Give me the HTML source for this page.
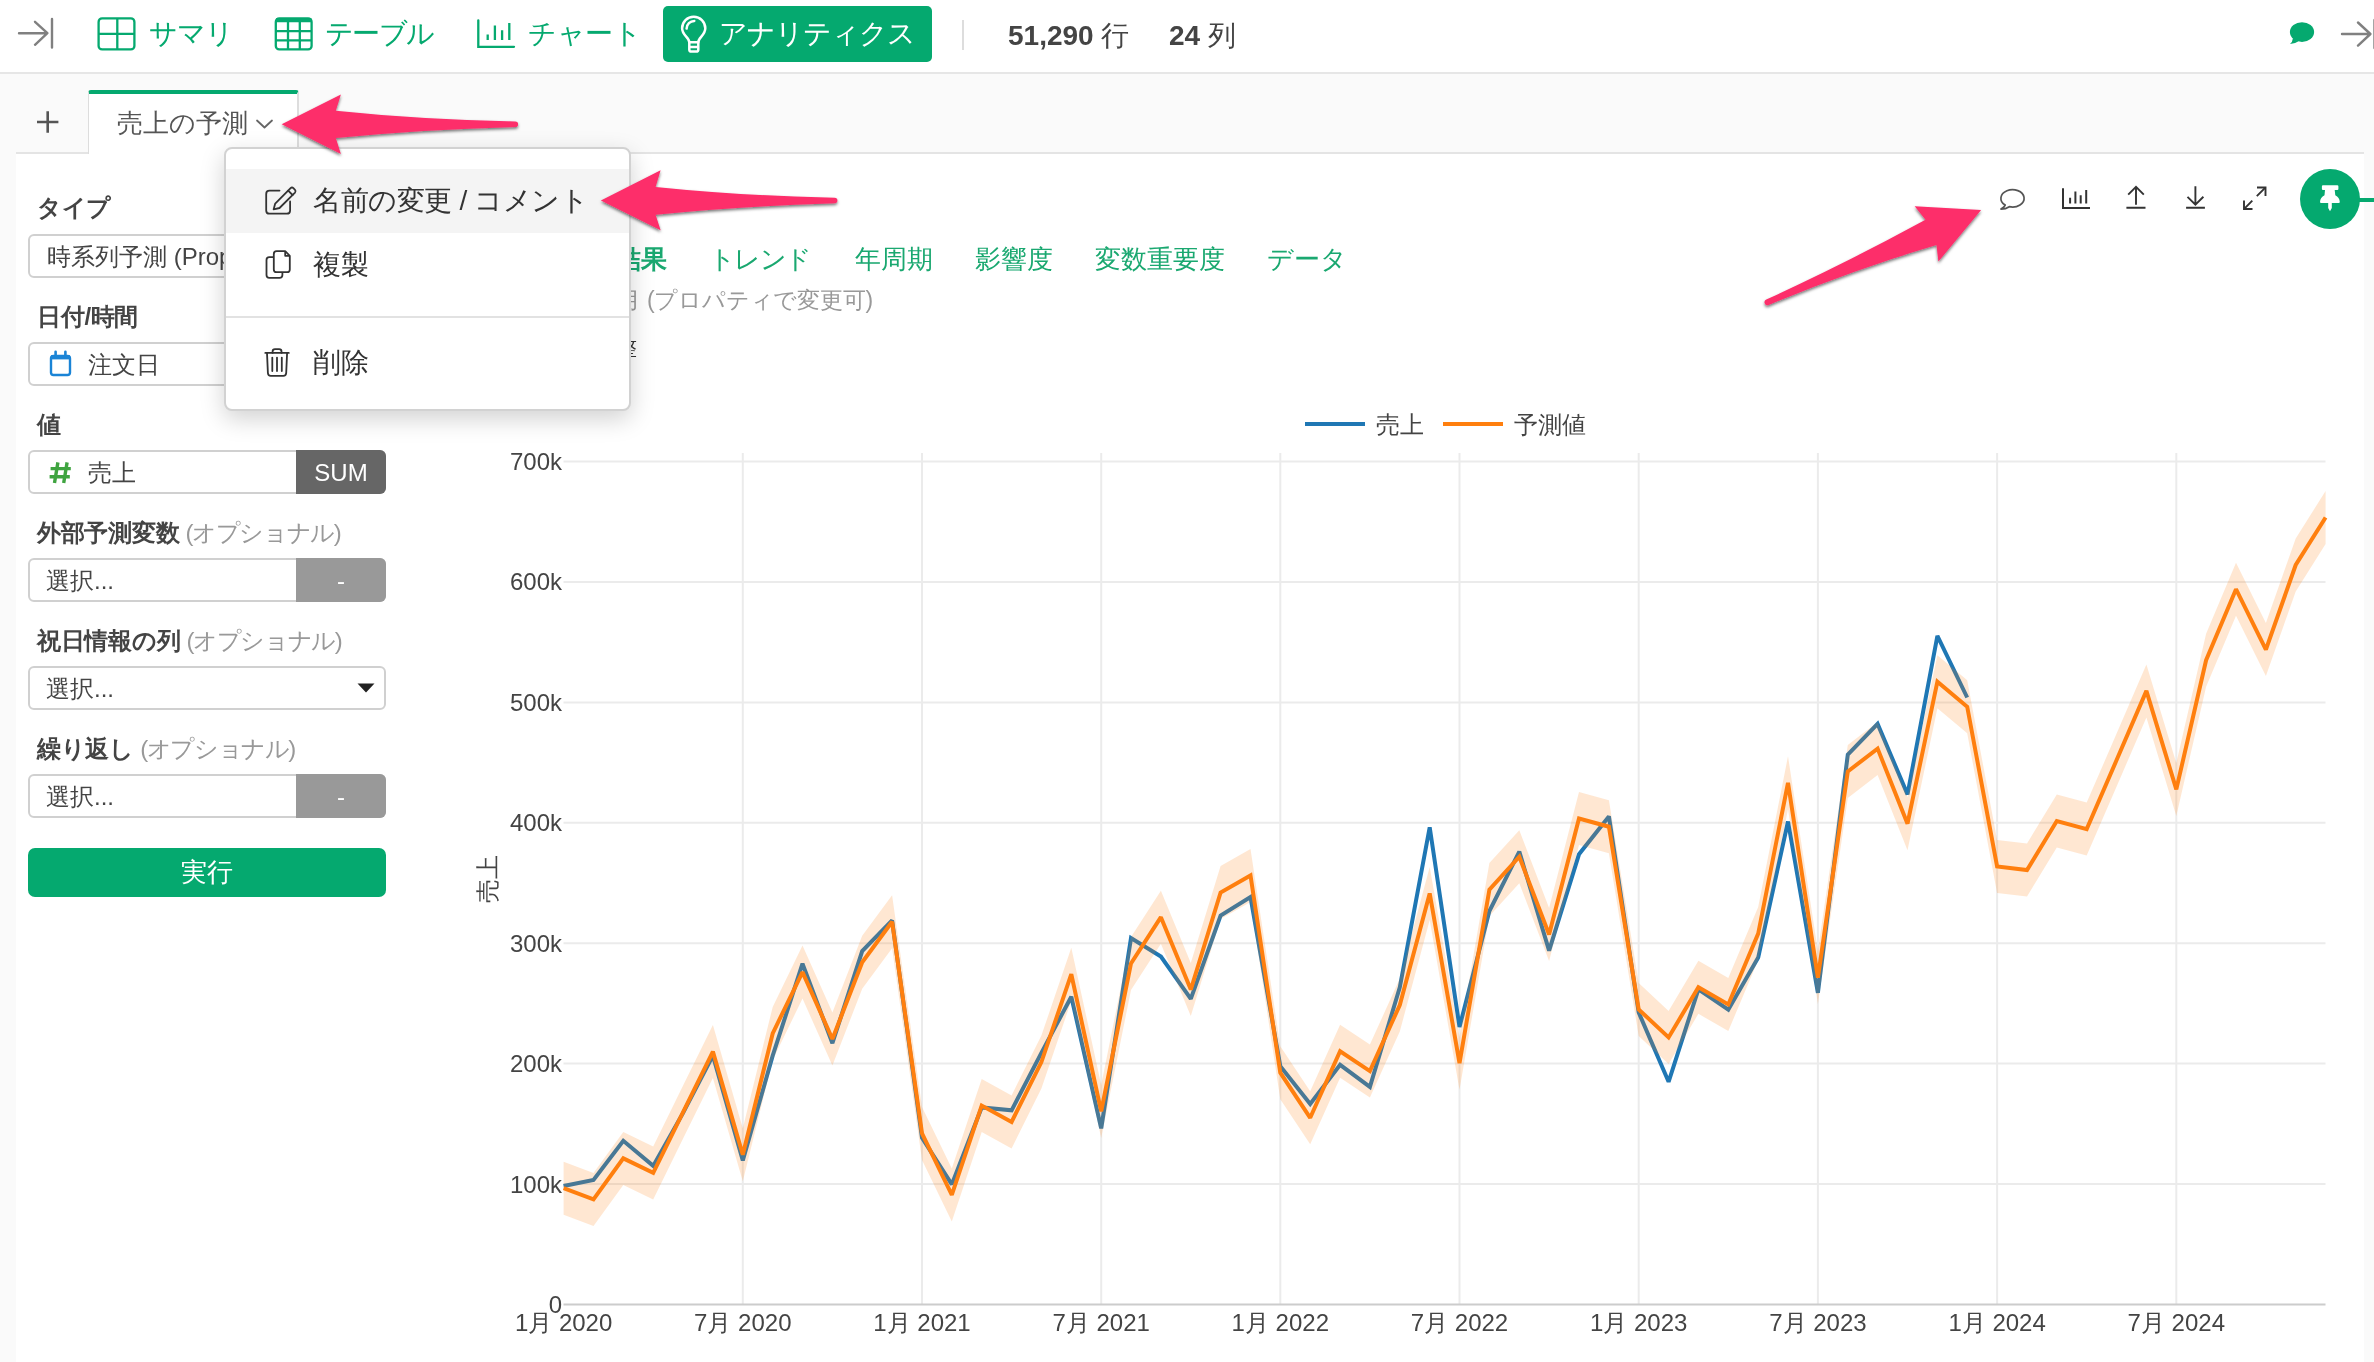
<!DOCTYPE html>
<html lang="ja">
<head>
<meta charset="utf-8">
<title>売上の予測 - アナリティクス</title>
<style>
*{box-sizing:border-box;margin:0;padding:0}
html,body{width:2374px;height:1362px;overflow:hidden;background:#fafafa}
body{font-family:"Liberation Sans",sans-serif;color:#444;position:relative;will-change:transform}
.abs{position:absolute}
svg{position:absolute;display:block;overflow:visible}
.t{position:absolute;white-space:nowrap;line-height:1}

/* top bar */
#topbar{position:absolute;left:0;top:0;width:2374px;height:74px;background:#fff;border-bottom:2px solid #e6e6e6}
.nav{font-size:28px;color:#05a96f;top:20px;letter-spacing:-1px}
#anabtn{position:absolute;left:663px;top:6px;width:269px;height:56px;background:#05a96f;border-radius:5px}
#anabtn .t{color:#fff;font-size:28px;left:56px;top:14px;letter-spacing:-1px}
#sep{position:absolute;left:962px;top:20px;width:2px;height:30px;background:#ddd}
.cnt{font-size:28px;color:#444;top:22px}
.cnt b{font-weight:bold}

/* panel */
#panel{position:absolute;left:16px;top:152px;width:2348px;height:1210px;background:#fff;border-top:2px solid #e4e4e4}
#tab{position:absolute;left:88px;top:90px;width:211px;height:64px;background:#fff;border-left:1px solid #ddd;border-right:2px solid #ddd;border-top:4px solid #05a96f;border-radius:3px 3px 0 0}
#tab .t{left:28px;top:16px;font-size:26px;color:#555}
#plus{left:33px;top:101px;font-size:40px;color:#555;font-weight:normal}

/* left form */
.lbl{font-size:24px;font-weight:bold;color:#444;left:37px;letter-spacing:-0.3px}
.lbl span{font-weight:normal;color:#999;letter-spacing:-1.4px}
.box{position:absolute;left:28px;width:358px;height:44px;border:2px solid #d0d0d0;border-radius:6px;background:#fff}
.box .t{font-size:24px;color:#444;top:9px}
.box .r{position:absolute;right:-2px;top:-2px;width:90px;height:44px;color:#fff;font-size:24px;text-align:center;line-height:46px;border-radius:0 6px 6px 0}
#run{position:absolute;left:28px;top:848px;width:358px;height:49px;background:#05a96f;border-radius:7px;color:#fff;font-size:26px;text-align:center;line-height:49px}

/* sub tabs */
.st{font-size:26px;color:#1aa870;top:246px}
.note{font-size:24px;color:#999}

/* menu */
#menu{position:absolute;left:224px;top:147px;width:407px;height:264px;background:#fff;border:2px solid #d2d2d2;border-radius:8px;box-shadow:0 8px 24px rgba(0,0,0,.18)}
#menu .hl{position:absolute;left:0;top:20px;width:403px;height:64px;background:#f4f4f4}
#menu .t{font-size:28px;color:#333;left:87px;letter-spacing:-0.4px}
#menu .hr{position:absolute;left:0;top:167px;width:403px;height:2px;background:#e2e2e2}
.chart{left:0;top:0}
</style>
</head>
<body>

<!-- ===== top bar ===== -->
<div id="topbar">
  <svg width="40" height="34" style="left:16px;top:16px" viewBox="16 16 40 34" fill="none" stroke="#808080" stroke-width="2.4" stroke-linecap="round" stroke-linejoin="round">
    <path d="M19 33.2H47M35 21.8L47.4 33.2L35 44.8M52 19V47.5"/>
  </svg>

  <svg width="40" height="36" style="left:96px;top:16px" viewBox="96 16 40 36" fill="none" stroke="#05a96f" stroke-width="2.3">
    <rect x="98.6" y="18.4" width="35.8" height="31" rx="3.5"/>
    <path d="M117.3 18.4V49.4M98.6 33.8H134.4"/>
  </svg>
  <div class="t nav" style="left:149px">サマリ</div>

  <svg width="40" height="36" style="left:273px;top:16px" viewBox="273 16 40 36" fill="none" stroke="#05a96f" stroke-width="2.3">
    <rect x="275.8" y="18.4" width="35.8" height="31" rx="3.5"/>
    <path d="M276 20.3H311.5" stroke-width="4"/>
    <path d="M288 21V49.4M299.8 21V49.4M275.8 31.2H311.6M275.8 40.4H311.6"/>
  </svg>
  <div class="t nav" style="left:325px;letter-spacing:-1.6px">テーブル</div>

  <svg width="42" height="36" style="left:475px;top:16px" viewBox="475 16 42 36" fill="none" stroke="#05a96f" stroke-width="2.3" stroke-linecap="round">
    <path d="M478.3 20.3V46.8H514"/>
    <path d="M487.7 34.5V40M494.9 25.5V40M502.1 30.3V40M509.3 23V40" stroke-linecap="butt"/>
  </svg>
  <div class="t nav" style="left:528px;letter-spacing:-0.5px">チャート</div>

  <div id="anabtn">
    <svg width="34" height="50" style="left:13px;top:3px" viewBox="676 9 34 50" fill="none" stroke="#fff" stroke-width="2.5" stroke-linecap="round" stroke-linejoin="round">
      <path d="M689.3 42.3C689.3 37.3 682.1 35.4 682.1 28.3A11.6 11.6 0 0 1 705.3 28.3C705.3 35.4 698.3 37.3 698.3 42.3Z"/>
      <path d="M689.3 42.3V49.5Q689.3 51.6 691.4 51.6H696.2Q698.3 51.6 698.3 49.5V42.3M689.5 46.9H698.1"/>
      <path d="M686.6 28.6A7.9 7.9 0 0 1 694.3 20.9"/>
    </svg>
    <div class="t">アナリティクス</div>
  </div>
  <div id="sep"></div>
  <div class="t cnt" style="left:1008px"><b>51,290</b> 行</div>
  <div class="t cnt" style="left:1169px"><b>24</b> 列</div>

  <svg width="30" height="28" style="left:2287px;top:20px" viewBox="2287 20 30 28" fill="#05a96f">
    <ellipse cx="2302" cy="32.1" rx="12.1" ry="9.9"/>
    <path d="M2293 38Q2292.5 42 2290 44Q2295 44 2298.5 41.3Z"/>
  </svg>
  <svg width="36" height="34" style="left:2338px;top:17px" viewBox="2338 17 36 34" fill="none" stroke="#808080" stroke-width="2.4" stroke-linecap="round" stroke-linejoin="round">
    <path d="M2342 34H2370M2358 22.5L2370.4 34L2358 45.6M2374.5 20V48"/>
  </svg>
</div>

<!-- ===== analytics tabs ===== -->
<svg width="26" height="26" style="left:35px;top:109px" viewBox="35 109 26 26" fill="none" stroke="#555" stroke-width="2.6"><path d="M37 122H58.4M47.7 111.3V132.7"/></svg>
<div id="panel"></div>
<div id="tab">
  <div class="t">売上の予測</div>
  <svg width="20" height="12" style="left:166px;top:24px" viewBox="0 0 20 12" fill="none" stroke="#666" stroke-width="1.8" stroke-linecap="round" stroke-linejoin="round"><path d="M2 2.5L9.5 9.5L17 2.5"/></svg>
</div>

<!-- ===== left form ===== -->
<div class="t lbl" style="top:196px">タイプ</div>
<div class="box" style="top:234px;overflow:hidden"><div class="t" style="left:17px">時系列予測 (Prophet)</div></div>

<div class="t lbl" style="top:305px">日付/時間</div>
<div class="box" style="top:342px">
  <svg width="26" height="28" style="left:17px;top:4px" viewBox="47 348 26 28" fill="none" stroke="#1a84d6" stroke-width="2.4" stroke-linejoin="round">
    <rect x="51" y="356" width="19" height="19" rx="2.5"/>
    <path d="M51 357.3H70" stroke-width="4.2"/>
    <path d="M55.6 351.8V356M65.4 351.8V356" stroke-linecap="round" stroke-width="2.6"/>
  </svg>
  <div class="t" style="left:58px">注文日</div>
</div>

<div class="t lbl" style="top:413px">値</div>
<div class="box" style="top:450px">
  <svg width="24" height="24" style="left:19px;top:10px" viewBox="49 462 24 24" fill="none" stroke="#3fa440" stroke-width="3.4"><path d="M57.9 462.4L54.5 483M67.1 462.4L63.7 483M50.6 468.6H70.8M49.6 476.8H69.8"/></svg>
  <div class="t" style="left:58px">売上</div>
  <div class="r" style="background:#666">SUM</div>
</div>

<div class="t lbl" style="top:521px">外部予測変数 <span>(オプショナル)</span></div>
<div class="box" style="top:558px">
  <div class="t" style="left:16px">選択...</div>
  <div class="r" style="background:#999">-</div>
</div>

<div class="t lbl" style="top:629px">祝日情報の列 <span>(オプショナル)</span></div>
<div class="box" style="top:666px">
  <div class="t" style="left:16px">選択...</div>
  <svg width="20" height="12" style="left:326px;top:14px" viewBox="0 0 20 12"><path d="M1.5 1.5H18.5L10 10.5Z" fill="#222"/></svg>
</div>

<div class="t lbl" style="top:737px">繰り返し <span>(オプショナル)</span></div>
<div class="box" style="top:774px">
  <div class="t" style="left:16px">選択...</div>
  <div class="r" style="background:#999">-</div>
</div>

<div id="run">実行</div>

<!-- ===== sub tabs ===== -->
<div class="t st" style="left:563px;font-weight:bold">予測結果</div>
<div class="t st" style="left:708.5px;letter-spacing:-1.4px">トレンド</div>
<div class="t st" style="left:855px">年周期</div>
<div class="t st" style="left:975px">影響度</div>
<div class="t st" style="left:1095px">変数重要度</div>
<div class="t st" style="left:1267px">データ</div>
<div class="t note" style="right:1501px;top:289px;font-size:23px;letter-spacing:-0.2px">予測期間: 12 月 (プロパティで変更可)</div>
<div class="t note" style="right:1737px;top:337px;font-size:21px;color:#333">データの調整</div>


<svg class="chart" width="2374" height="1362" viewBox="0 0 2374 1362">
<g>
<line x1="563.5" y1="461.5" x2="2325.5" y2="461.5" stroke="#ebebeb" stroke-width="2"/>
<line x1="563.5" y1="581.9" x2="2325.5" y2="581.9" stroke="#ebebeb" stroke-width="2"/>
<line x1="563.5" y1="702.4" x2="2325.5" y2="702.4" stroke="#ebebeb" stroke-width="2"/>
<line x1="563.5" y1="822.8" x2="2325.5" y2="822.8" stroke="#ebebeb" stroke-width="2"/>
<line x1="563.5" y1="943.2" x2="2325.5" y2="943.2" stroke="#ebebeb" stroke-width="2"/>
<line x1="563.5" y1="1063.6" x2="2325.5" y2="1063.6" stroke="#ebebeb" stroke-width="2"/>
<line x1="563.5" y1="1184.1" x2="2325.5" y2="1184.1" stroke="#ebebeb" stroke-width="2"/>
<line x1="742.8" y1="453" x2="742.8" y2="1304" stroke="#ebebeb" stroke-width="2"/>
<line x1="922.0" y1="453" x2="922.0" y2="1304" stroke="#ebebeb" stroke-width="2"/>
<line x1="1101.2" y1="453" x2="1101.2" y2="1304" stroke="#ebebeb" stroke-width="2"/>
<line x1="1280.3" y1="453" x2="1280.3" y2="1304" stroke="#ebebeb" stroke-width="2"/>
<line x1="1459.5" y1="453" x2="1459.5" y2="1304" stroke="#ebebeb" stroke-width="2"/>
<line x1="1638.7" y1="453" x2="1638.7" y2="1304" stroke="#ebebeb" stroke-width="2"/>
<line x1="1817.9" y1="453" x2="1817.9" y2="1304" stroke="#ebebeb" stroke-width="2"/>
<line x1="1997.1" y1="453" x2="1997.1" y2="1304" stroke="#ebebeb" stroke-width="2"/>
<line x1="2176.3" y1="453" x2="2176.3" y2="1304" stroke="#ebebeb" stroke-width="2"/>
<line x1="563.5" y1="1304.5" x2="2325.5" y2="1304.5" stroke="#cccccc" stroke-width="2"/>
</g>
<polyline points="563.6,1186.0 593.5,1179.9 623.3,1140.8 653.2,1165.9 683.1,1112.9 712.9,1055.7 742.8,1160.4 772.7,1055.7 802.5,963.7 832.4,1043.2 862.2,951.1 892.1,920.4 922.0,1137.8 951.8,1184.4 981.7,1107.5 1011.6,1110.3 1041.4,1052.8 1071.3,996.7 1101.2,1128.4 1131.0,938.1 1160.9,956.6 1190.8,998.9 1220.6,915.6 1250.5,897.1 1280.3,1066.2 1310.2,1104.0 1340.1,1064.9 1369.9,1086.9 1399.8,987.4 1429.7,827.3 1459.5,1027.0 1489.4,911.0 1519.3,851.7 1549.1,950.7 1579.0,854.3 1608.9,816.4 1638.7,1012.5 1668.6,1081.8 1698.4,989.3 1728.3,1009.7 1758.2,957.6 1788.0,821.5 1817.9,992.8 1847.8,754.6 1877.6,723.9 1907.5,794.4 1937.4,635.9 1967.2,697.5" fill="none" stroke="#1f77b4" stroke-width="4" stroke-linejoin="miter" stroke-miterlimit="2"/>
<polygon points="563.6,1161.7 593.5,1172.9 623.3,1131.9 653.2,1146.4 683.1,1085.6 712.9,1025.1 742.8,1128.3 772.7,1006.9 802.5,945.6 832.4,1012.5 862.2,935.8 892.1,895.3 922.0,1106.9 951.8,1168.4 981.7,1079.1 1011.6,1095.4 1041.4,1035.6 1071.3,947.7 1101.2,1084.9 1131.0,936.9 1160.9,890.7 1190.8,963.1 1220.6,866.0 1250.5,849.0 1280.3,1046.2 1310.2,1091.3 1340.1,1024.8 1369.9,1044.6 1399.8,978.5 1429.7,866.9 1459.5,1036.7 1489.4,863.1 1519.3,830.2 1549.1,908.0 1579.0,792.0 1608.9,800.2 1638.7,982.9 1668.6,1010.9 1698.4,960.8 1728.3,978.0 1758.2,907.1 1788.0,756.3 1817.9,951.1 1847.8,745.0 1877.6,722.1 1907.5,797.2 1937.4,655.2 1967.2,680.2 1997.1,839.9 2027.0,843.6 2056.8,794.5 2086.7,802.6 2116.5,733.8 2146.4,664.4 2176.3,762.9 2206.1,633.7 2236.0,562.7 2265.9,623.1 2295.7,538.5 2325.6,491.0 2325.6,544.0 2295.7,591.5 2265.9,676.1 2236.0,615.7 2206.1,686.7 2176.3,815.9 2146.4,717.4 2116.5,786.8 2086.7,855.6 2056.8,847.5 2027.0,896.6 1997.1,892.9 1967.2,733.2 1937.4,708.2 1907.5,850.2 1877.6,775.1 1847.8,798.0 1817.9,1004.1 1788.0,809.3 1758.2,960.1 1728.3,1031.0 1698.4,1013.8 1668.6,1063.9 1638.7,1035.9 1608.9,853.2 1579.0,845.0 1549.1,961.0 1519.3,883.2 1489.4,916.1 1459.5,1089.7 1429.7,919.9 1399.8,1031.5 1369.9,1097.6 1340.1,1077.8 1310.2,1144.3 1280.3,1099.2 1250.5,902.0 1220.6,919.0 1190.8,1016.1 1160.9,943.7 1131.0,989.9 1101.2,1137.9 1071.3,1000.7 1041.4,1088.6 1011.6,1148.4 981.7,1132.1 951.8,1221.4 922.0,1159.9 892.1,948.3 862.2,988.8 832.4,1065.5 802.5,998.6 772.7,1059.9 742.8,1181.3 712.9,1078.1 683.1,1138.6 653.2,1199.4 623.3,1184.9 593.5,1225.9 563.6,1214.7" fill="#ff7f0e" fill-opacity="0.19"/>
<polyline points="563.6,1188.2 593.5,1199.4 623.3,1158.4 653.2,1172.9 683.1,1112.1 712.9,1051.6 742.8,1154.8 772.7,1033.4 802.5,972.1 832.4,1039.0 862.2,962.3 892.1,921.8 922.0,1133.4 951.8,1194.9 981.7,1105.6 1011.6,1121.9 1041.4,1062.1 1071.3,974.2 1101.2,1111.4 1131.0,963.4 1160.9,917.2 1190.8,989.6 1220.6,892.5 1250.5,875.5 1280.3,1072.7 1310.2,1117.8 1340.1,1051.3 1369.9,1071.1 1399.8,1005.0 1429.7,893.4 1459.5,1063.2 1489.4,889.6 1519.3,856.7 1549.1,934.5 1579.0,818.5 1608.9,826.7 1638.7,1009.4 1668.6,1037.4 1698.4,987.3 1728.3,1004.5 1758.2,933.6 1788.0,782.8 1817.9,977.6 1847.8,771.5 1877.6,748.6 1907.5,823.7 1937.4,681.7 1967.2,706.7 1997.1,866.4 2027.0,870.1 2056.8,821.0 2086.7,829.1 2116.5,760.3 2146.4,690.9 2176.3,789.4 2206.1,660.2 2236.0,589.2 2265.9,649.6 2295.7,565.0 2325.6,517.5" fill="none" stroke="#ff7f0e" stroke-width="4" stroke-linejoin="miter" stroke-miterlimit="2"/>
<g font-family="Liberation Sans, sans-serif" font-size="24" fill="#444444">
<text x="562" y="470.0" text-anchor="end">700k</text>
<text x="562" y="590.4" text-anchor="end">600k</text>
<text x="562" y="710.9" text-anchor="end">500k</text>
<text x="562" y="831.3" text-anchor="end">400k</text>
<text x="562" y="951.7" text-anchor="end">300k</text>
<text x="562" y="1072.1" text-anchor="end">200k</text>
<text x="562" y="1192.6" text-anchor="end">100k</text>
<text x="562" y="1313.0" text-anchor="end">0</text>
<text x="563.6" y="1330.5" text-anchor="middle">1月 2020</text>
<text x="742.8" y="1330.5" text-anchor="middle">7月 2020</text>
<text x="922.0" y="1330.5" text-anchor="middle">1月 2021</text>
<text x="1101.2" y="1330.5" text-anchor="middle">7月 2021</text>
<text x="1280.3" y="1330.5" text-anchor="middle">1月 2022</text>
<text x="1459.5" y="1330.5" text-anchor="middle">7月 2022</text>
<text x="1638.7" y="1330.5" text-anchor="middle">1月 2023</text>
<text x="1817.9" y="1330.5" text-anchor="middle">7月 2023</text>
<text x="1997.1" y="1330.5" text-anchor="middle">1月 2024</text>
<text x="2176.3" y="1330.5" text-anchor="middle">7月 2024</text>
<text x="1376" y="433">売上</text>
<text x="1514" y="433">予測値</text>
<text transform="translate(496,879) rotate(-90)" text-anchor="middle">売上</text>
</g>
<line x1="1305" y1="424" x2="1365" y2="424" stroke="#1f77b4" stroke-width="4"/>
<line x1="1443" y1="424" x2="1503" y2="424" stroke="#ff7f0e" stroke-width="4"/>
</svg>

<!-- ===== toolbar ===== -->
<svg width="32" height="30" style="left:1996px;top:184px" viewBox="1996 184 32 30" fill="none" stroke="#555" stroke-width="1.7" stroke-linejoin="round">
  <path d="M2005.2 205.1A11.6 8.7 0 1 1 2009.3 206.7Q2005.8 209.1 2001 209.1Q2004.3 207.3 2005.2 205.1Z"/>
</svg>
<svg width="32" height="26" style="left:2060px;top:186px" viewBox="2060 186 32 26" fill="none" stroke="#333" stroke-width="2">
  <path d="M2063 188.2V208.1H2090"/>
  <path d="M2070.1 197.8V203.6M2075.4 191.5V203.6M2080.7 195.2V203.6M2086.2 189.9V203.6"/>
</svg>
<svg width="24" height="26" style="left:2124px;top:184px" viewBox="2124 184 24 26" fill="none" stroke="#333" stroke-width="1.9">
  <path d="M2136 187V204.8M2128.2 194.6L2136 186.8L2143.8 194.6M2126.4 207.8H2145.5"/>
</svg>
<svg width="24" height="26" style="left:2184px;top:184px" viewBox="2184 184 24 26" fill="none" stroke="#333" stroke-width="1.9">
  <path d="M2195.4 186.2V204.4M2187.5 196.8L2195.4 204.7L2203.4 196.8M2186.1 207.8H2204.9"/>
</svg>
<svg width="28" height="28" style="left:2241px;top:184px" viewBox="2241 184 28 28" fill="none" stroke="#333" stroke-width="1.9">
  <path d="M2244.2 208.8L2252.3 200.7M2256.8 196.2L2265.3 187.7"/>
  <path d="M2257 187.5H2265.5V196M2244 200.5V209H2252.5"/>
</svg>
<div class="abs" style="left:2355px;top:198px;width:19px;height:4px;background:#05a96f"></div>
<div class="abs" style="left:2300px;top:169px;width:60px;height:60px;border-radius:50%;background:#05a96f"></div>
<svg width="24" height="28" style="left:2318px;top:184px" viewBox="2318 184 24 28" fill="#fff">
  <path d="M2323 185.2H2337.3Q2338.4 185.2 2338.4 186.3V188.9Q2338.4 190 2337.3 190H2334.7L2335.3 195.3Q2339.5 197.5 2339.8 201.9Q2339.8 203 2338.7 203H2331.8V208L2330 211.3L2328.2 208V203H2321.1Q2320 203 2320 201.9Q2320.3 197.5 2324.5 195.3L2325 190H2323Q2321.9 190 2321.9 188.9V186.3Q2321.9 185.2 2323 185.2Z"/>
</svg>


<!-- ===== popup menu ===== -->
<div id="menu">
  <div class="hl"></div>
  <svg width="36" height="32" style="left:37px;top:36px" viewBox="263 185 36 32" fill="none" stroke="#333" stroke-width="1.8" stroke-linecap="round" stroke-linejoin="round">
    <path d="M279.5 190.6H269.5Q266.2 190.6 266.2 193.9V210.4Q266.2 213.7 269.5 213.7H286.8Q290.1 213.7 290.1 210.4V201.5"/>
    <path d="M273.6 209.4L275.2 203.6L290.6 188.2Q292 186.9 293.4 188.2L295 189.8Q296.3 191.2 295 192.6L279.5 208Z"/>
    <path d="M288.2 190.6L292.6 195"/>
  </svg>
  <div class="t" style="top:38px">名前の変更 / コメント</div>
  <svg width="30" height="32" style="left:38px;top:100px" viewBox="264 249 30 32" fill="none" stroke="#333" stroke-width="1.8" stroke-linejoin="round">
    <path d="M276.6 251.2H285.2L289.8 255.8V269.4Q289.8 272.2 287 272.2H276.6Q273.8 272.2 273.8 269.4V254Q273.8 251.2 276.6 251.2Z"/>
    <path d="M285.2 251.2V255.8H289.8"/>
    <path d="M273.8 257.2H269.3Q266.5 257.2 266.5 260V275Q266.5 277.8 269.3 277.8H279.6Q282.4 277.8 282.4 275V272.2"/>
  </svg>
  <div class="t" style="top:102px">複製</div>
  <div class="hr"></div>
  <svg width="28" height="32" style="left:38px;top:199px" viewBox="264 348 28 32" fill="none" stroke="#333" stroke-width="1.8" stroke-linecap="round" stroke-linejoin="round">
    <path d="M265.3 352.9H288.8M267 352.9L267.9 373Q268 375.8 270.8 375.8H283.3Q286.1 375.8 286.2 373L287.1 352.9"/>
    <path d="M272.6 352.9V351.6Q272.6 349.2 275 349.2H279.1Q281.5 349.2 281.5 351.6V352.9"/>
    <path d="M272.3 357.6V371M277 357.6V371M281.8 357.6V371"/>
  </svg>
  <div class="t" style="top:200px">削除</div>
</div>


<!-- ===== annotation arrows ===== -->
<svg width="2374" height="1362" style="left:0;top:0" viewBox="0 0 2374 1362">
  <defs>
    <filter id="ash" x="-10%" y="-20%" width="120%" height="150%">
      <feDropShadow dx="0" dy="1.8" stdDeviation="1.4" flood-color="#000" flood-opacity="0.55"/>
    </filter>
  </defs>
  <g fill="#fd2d6b" filter="url(#ash)">
    <path d="M281.7 124.2L340.9 94.5L335.8 110.7Q420 119.5 515.3 121.4A2.8 2.8 0 0 1 515.3 127Q420 129.5 335.8 138.1L340.9 153.9Z"/>
    <path d="M600.9 200.5L660.6 170.2L655.6 186.9Q740 195.6 834.6 197.7A2.8 2.8 0 0 1 834.6 203.3Q740 206 655.6 214.7L660.6 230.2Z"/>
    <path d="M1981.1 210.1L1914.7 206.3L1925.5 219.8Q1850 261 1766.3 299.6A2.8 2.8 0 0 0 1768.7 305Q1852 270 1936.5 245.1L1938.4 261.5Z"/>
  </g>
</svg>


</body>
</html>
